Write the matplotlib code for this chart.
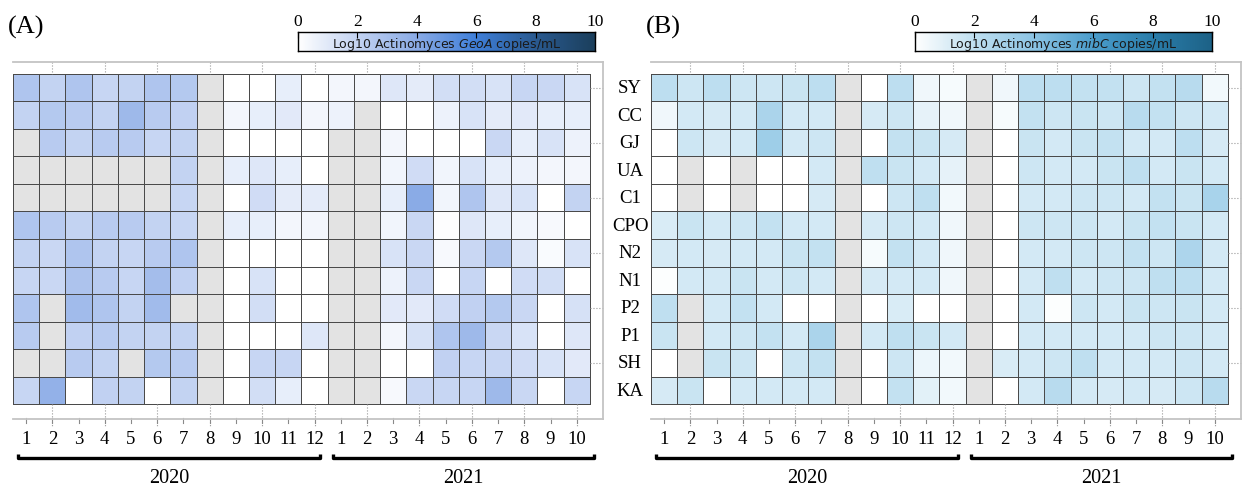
import numpy as np
import matplotlib
matplotlib.use('Agg')
from matplotlib import pyplot as plt
from matplotlib.colors import LinearSegmentedColormap

N = np.nan

SITES = ['SY', 'CC', 'GJ', 'UA', 'C1', 'CPO', 'N2', 'N1', 'P2', 'P1', 'SH', 'KA']
MONTHS_2020 = [str(m) for m in range(1, 13)]
MONTHS_2021 = [str(m) for m in range(1, 11)]
YEARS = ['2020', '2021']

# log10 copies/mL, columns = 2020 Jan-Dec then 2021 Jan-Oct, nan = not sampled
GEOA = [
    [2.7, 2.0, 2.7, 1.9, 2.0, 2.7, 2.5, N, 0, 0, 0.8, 0, 0.4, 0.4, 1.1, 0.9, 1.5, 1.5, 1.3, 1.9, 1.8, 1.3],
    [2.0, 2.5, 2.4, 2.0, 3.3, 2.4, 2.1, N, 0.4, 0.8, 1.0, 0.4, 0.6, N, 0, 0, 0.6, 1.3, 0.9, 1.0, 0.8, 0.8],
    [N, 2.4, 2.0, 2.4, 2.4, 1.9, 2.0, N, 0, 0, 0, 0, N, N, 0.4, 0, 0, 0, 1.8, 0.8, 1.3, 0.6],
    [N, N, N, N, N, N, 2.0, N, 0.8, 1.1, 0.8, 0, N, N, 0.5, 1.6, 0.5, 1.3, 0.8, 0.6, 0.4, 0.4],
    [N, N, N, N, N, N, 1.9, N, 0, 1.6, 0.9, 0.9, N, N, 0.8, 4.0, 0.5, 2.7, 1.1, 1.3, 0, 2.0],
    [2.7, 2.4, 2.0, 2.4, 2.4, 2.0, 1.9, N, 0.8, 0.8, 0.4, 0.4, N, N, 0.5, 1.8, 0.1, 1.1, 0.8, 0.5, 0.3, 0],
    [2.0, 1.8, 2.7, 2.0, 1.9, 2.4, 2.7, N, 0, 0, 0, 0, N, N, 1.3, 1.8, 0.3, 1.8, 2.5, 1.1, 0.2, 1.3],
    [1.9, 1.8, 2.8, 2.4, 1.9, 3.1, 2.1, N, 0, 1.3, 0, 0, N, N, 0.6, 1.8, 0, 1.9, 0, 1.6, 1.5, 0],
    [2.7, N, 3.2, 2.7, 2.0, 3.2, N, N, 0, 1.5, 0, 0, N, N, 1.0, 1.0, 1.6, 2.1, 2.5, 1.8, 0, 1.4],
    [2.4, N, 2.1, 2.4, 2.0, 2.0, 2.0, N, 0, 0, 0, 1.1, N, N, 0.4, 1.4, 2.7, 3.3, 1.8, 1.3, 0, 1.1],
    [N, N, 2.4, 2.0, N, 2.5, 2.4, N, 0, 1.9, 1.9, 0, N, N, 0, 0, 2.1, 1.9, 1.9, 1.6, 1.3, 1.0],
    [1.9, 3.7, 0, 2.1, 2.0, 0, 2.0, N, 0, 1.5, 0.8, 0, N, N, 0.3, 1.8, 1.9, 1.9, 3.3, 1.8, 0, 1.9],
]

MIBC = [
    [2.1, 1.6, 2.1, 1.6, 1.6, 1.7, 2.1, N, 0, 2.1, 0.5, 0.3, N, 0.5, 2.1, 2.1, 1.9, 1.9, 1.6, 1.9, 2.3, 0.4],
    [0.5, 1.4, 1.3, 1.4, 2.8, 1.4, 1.4, N, 1.3, 1.6, 0.8, 0.5, N, 0.3, 1.9, 1.6, 1.7, 1.6, 2.3, 1.9, 1.6, 1.4],
    [0, 1.6, 1.3, 1.4, 3.3, 1.4, 1.6, N, 0, 1.9, 1.7, 1.3, N, 0, 1.7, 1.4, 1.7, 1.9, 1.4, 1.4, 2.1, 1.3],
    [0, N, 0, N, 0, 0, 1.4, N, 2.0, 1.7, 1.4, 0.8, N, 0, 1.6, 1.4, 1.4, 1.7, 2.0, 1.4, 1.7, 1.4],
    [0, N, 0, N, 0, 0, 1.3, N, 0, 1.6, 2.0, 0.4, N, 0, 1.4, 1.4, 1.6, 1.6, 1.4, 1.9, 1.7, 2.9],
    [1.2, 1.7, 1.4, 1.6, 1.9, 1.4, 1.4, N, 1.3, 1.6, 1.4, 0.5, N, 0, 1.6, 1.6, 1.6, 1.4, 1.7, 1.9, 1.7, 1.4],
    [1.3, 1.4, 1.3, 1.4, 1.4, 1.7, 1.9, N, 0.3, 1.9, 1.4, 0.5, N, 0, 1.4, 1.4, 1.6, 1.6, 1.9, 1.6, 2.7, 1.4],
    [0.1, 1.4, 1.4, 1.7, 1.4, 1.6, 1.4, N, 1.3, 1.4, 1.4, 0.5, N, 0, 1.4, 2.0, 1.4, 1.6, 1.6, 2.0, 2.1, 1.4],
    [2.0, N, 1.4, 1.9, 1.4, 0, 0, N, 0, 1.2, 0, 0, N, 0, 1.4, 0.1, 1.6, 1.4, 1.7, 1.6, 1.7, 1.4],
    [1.7, N, 1.4, 1.6, 1.9, 1.4, 2.8, N, 1.4, 2.0, 1.7, 1.4, N, 0, 1.4, 1.4, 1.4, 1.4, 1.4, 1.6, 1.6, 1.4],
    [0, N, 1.7, 1.6, 0, 1.6, 1.9, N, 0, 1.6, 0.6, 0.4, N, 1.2, 1.4, 1.6, 2.0, 1.4, 1.4, 1.4, 1.6, 1.4],
    [1.3, 1.7, 0, 1.4, 1.4, 1.4, 1.4, N, 0, 1.9, 0.9, 0.4, N, 0, 1.4, 2.3, 1.4, 1.3, 1.4, 1.3, 1.6, 2.3],
]

W, H = 1243, 489
SERIF = 'Liberation Serif'

cmap_geoa = LinearSegmentedColormap.from_list('geoa', [
    (0.0, '#ffffff'), (0.2, '#c3d3f2'), (0.4, '#8aabe6'),
    (0.6, '#3f7fd9'), (0.8, '#2a5a90'), (1.0, '#1b3f5c')])
cmap_mibc = LinearSegmentedColormap.from_list('mibc', [
    (0.0, '#ffffff'), (0.2, '#bfdff0'), (0.4, '#8cc4e4'),
    (0.6, '#4b9dcc'), (0.8, '#2b7eab'), (1.0, '#1d6287')])
for cm in (cmap_geoa, cmap_mibc):
    cm.set_bad('#e3e3e3')


def rect(x0, y0, x1, y1):
    # pixel box (y from top) -> figure fraction
    return [x0 / W, 1 - y1 / H, (x1 - x0) / W, (y1 - y0) / H]


def draw_panel(fig, left, data, cmap, gene, letter, cbar_x):
    ax = fig.add_axes(rect(left, 63, left + 590, 420))
    vals = np.ma.masked_invalid(np.array(data, dtype=float))
    ax.pcolormesh(np.arange(23), np.arange(13), vals, cmap=cmap, vmin=0, vmax=10,
                  edgecolors='#4a4a4a', linewidth=0.6)
    top, bot = -0.436, 12.545
    ax.set_xlim(0, 22.5)
    ax.set_ylim(bot, top)
    ax.set_xticks([])
    ax.set_yticks([])
    ax.spines['left'].set_visible(False)
    for s in ('top', 'right', 'bottom'):
        ax.spines[s].set_color('#c4c4c4')
        ax.spines[s].set_linewidth(1.3)

    # frame ticks
    for c in range(1, 22, 2):
        ax.plot([c + 0.5, c + 0.5], [top, 0], ls=':', color='#9a9a9a', lw=0.8, clip_on=False)
        ax.plot([c + 0.5, c + 0.5], [12, 12.8], ls=':', color='#9a9a9a', lw=0.8, clip_on=False)
    for c in range(22):
        ax.plot([c + 0.5, c + 0.5], [bot - 0.05, bot + 0.15], color='#8a8a8a', lw=0.8, clip_on=False)
    for r in range(0, 12, 2):
        ax.plot([22, 22.5], [r + 0.5, r + 0.5], ls=':', color='#9a9a9a', lw=0.8, clip_on=False)

    months = MONTHS_2020 + MONTHS_2021
    for i, m in enumerate(months):
        ax.text(i + 0.5, 13.27, m, ha='center', va='center', fontsize=13.5,
                family=SERIF, clip_on=False)

    spans = [(0.2, 11.7), (12.2, 22.15)]
    for (x0, x1), yr in zip(spans, YEARS):
        ax.plot([x0, x0, x1, x1], [13.8, 13.95, 13.95, 13.8], color='black', lw=2.4,
                solid_capstyle='butt', clip_on=False)
        ax.text((x0 + x1) / 2, 14.68, yr, ha='center', va='center', fontsize=14.5,
                family=SERIF, clip_on=False)

    # colour bar
    cax = fig.add_axes(rect(cbar_x, 33, cbar_x + 297, 52))
    cax.imshow(np.linspace(0, 10, 256)[None, :], extent=[0, 10, 0, 1], aspect='auto', cmap=cmap)
    cax.set_xticks([0, 2, 4, 6, 8, 10])
    cax.set_yticks([])
    cax.tick_params(axis='x', top=True, labeltop=True, bottom=False, labelbottom=False,
                    direction='in', length=4, width=0.8, pad=2, labelsize=12.5)
    for lab in cax.get_xticklabels():
        lab.set_family(SERIF)
    for s in cax.spines.values():
        s.set_linewidth(1.0)
    cax.text(5, 0.42, 'Log10 Actinomyces $\\mathit{' + gene + '}$ copies/mL', ha='center',
             va='center', fontsize=9, color='#1a1a1a')

    fig.text((left - 5) / W, 1 - 27 / H, letter, ha='left', va='center', fontsize=19, family=SERIF)
    return ax


fig = plt.figure(figsize=(W / 100, H / 100), dpi=100)
ax_a = draw_panel(fig, 13, GEOA, cmap_geoa, 'GeoA', '(A)', 298)
ax_b = draw_panel(fig, 651, MIBC, cmap_mibc, 'mibC', '(B)', 915)

for r, site in enumerate(SITES):
    ax_b.text(-0.8, r + 0.5, site, ha='center', va='center', fontsize=13.5,
              family=SERIF, clip_on=False)

fig.savefig('out.png', dpi=100)
